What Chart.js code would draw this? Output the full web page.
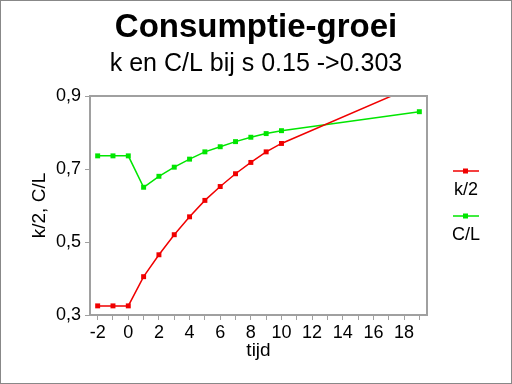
<!DOCTYPE html>
<html>
<head>
<meta charset="utf-8">
<script src="https://cdn.jsdelivr.net/npm/chart.js@4.4.1/dist/chart.umd.min.js"></script>
<style>
  html, body { margin: 0; padding: 0; background: #fff; }
  #wrap { width: 512px; height: 384px; }
</style>
</head>
<body>
<div id="wrap"><canvas id="groeiChart" width="512" height="384"></canvas></div>
<script>
var tijd = [-2, -1, 0, 1, 2, 3, 4, 5, 6, 7, 8, 9, 10, 19];
var k2Data = [0.325, 0.325, 0.325, 0.405, 0.465, 0.520, 0.569, 0.614, 0.652, 0.687, 0.718, 0.747, 0.770, 0.933];
var clData = [0.736, 0.736, 0.736, 0.650, 0.680, 0.705, 0.727, 0.747, 0.761, 0.775, 0.787, 0.797, 0.805, 0.857];
var yTicks = [0.3, 0.5, 0.7, 0.9];
var xTickFirst = -2, xTickLast = 19;

var titleText = 'Consumptie-groei';
var subtitleText = 'k en C/L bij s 0.15 ->0.303';

var fontName = '"Liberation Sans", Arial, sans-serif';
var frameColor = '#a0a0a0';

function toPoints(xs, ys) {
  return xs.map(function (x, i) { return { x: x, y: ys[i] }; });
}

// frame, outer border, titles and legend
var decorPlugin = {
  id: 'decor',
  afterDraw: function (chart) {
    var ctx = chart.ctx;
    var a = chart.chartArea;
    ctx.save();
    // outer border
    ctx.strokeStyle = '#888';
    ctx.lineWidth = 2;
    ctx.strokeRect(0, 0, chart.width, chart.height);
    // plot frame
    ctx.strokeStyle = frameColor;
    ctx.lineWidth = 2;
    ctx.strokeRect(a.left, a.top, a.right - a.left, a.bottom - a.top);
    // titles
    ctx.fillStyle = '#000';
    ctx.textAlign = 'center';
    ctx.textBaseline = 'alphabetic';
    ctx.font = 'bold 33px ' + fontName;
    ctx.fillText(titleText, 256, 37);
    ctx.font = '25px ' + fontName;
    ctx.fillText(subtitleText, 256, 71);
    // legend
    chart.data.datasets.forEach(function (ds, i) {
      var y = 171 + i * 45;
      ctx.strokeStyle = ds.borderColor;
      ctx.lineWidth = 1.5;
      ctx.beginPath();
      ctx.moveTo(453, y);
      ctx.lineTo(479, y);
      ctx.stroke();
      ctx.fillStyle = ds.borderColor;
      ctx.fillRect(463, y - 2.5, 5, 5);
      ctx.fillStyle = '#000';
      ctx.font = '18px ' + fontName;
      ctx.textBaseline = 'middle';
      ctx.fillText(ds.label, 466, y + 19);
    });
    ctx.restore();
  }
};

var ctx = document.getElementById('groeiChart').getContext('2d');
var myChart = new Chart(ctx, {
  type: 'line',
  data: {
    datasets: [{
      label: 'k/2',
      data: toPoints(tijd, k2Data),
      borderColor: 'rgb(240, 0, 0)',
      backgroundColor: 'rgb(240, 0, 0)',
      borderWidth: 1.5,
      pointStyle: 'rect',
      pointRadius: 3.5,
      pointBorderWidth: 0,
      tension: 0
    }, {
      label: 'C/L',
      data: toPoints(tijd, clData),
      borderColor: 'rgb(0, 230, 0)',
      backgroundColor: 'rgb(0, 230, 0)',
      borderWidth: 1.5,
      pointStyle: 'rect',
      pointRadius: 3.5,
      pointBorderWidth: 0,
      tension: 0
    }]
  },
  options: {
    responsive: false,
    animation: false,
    layout: { padding: { top: 96, right: 85, left: 0, bottom: 0 } },
    plugins: {
      legend: { display: false },
      title: { display: false },
      tooltip: { enabled: false }
    },
    scales: {
      x: {
        type: 'linear',
        min: -2.5,
        max: 19.5,
        afterFit: function (scale) { scale.height = 69; },
        afterBuildTicks: function (scale) {
          var t = [];
          for (var v = xTickFirst; v <= xTickLast; v++) t.push({ value: v });
          scale.ticks = t;
        },
        grid: { drawOnChartArea: false, drawTicks: true, tickLength: 5, color: frameColor, lineWidth: 1 },
        border: { display: true, color: frameColor, width: 2 },
        ticks: {
          autoSkip: false,
          maxRotation: 0,
          padding: 2,
          color: '#000',
          font: { family: fontName, size: 18 },
          callback: function (v) { return v % 2 === 0 ? String(v) : ''; }
        },
        title: {
          display: true,
          text: 'tijd',
          color: '#000',
          font: { family: fontName, size: 19 },
          padding: { top: 0, bottom: 22 }
        }
      },
      y: {
        min: 0.3,
        max: 0.9,
        afterFit: function (scale) { scale.width = 90; },
        afterBuildTicks: function (scale) {
          scale.ticks = yTicks.map(function (v) { return { value: v }; });
        },
        grid: { drawOnChartArea: false, drawTicks: true, tickLength: 5, color: frameColor, lineWidth: 1 },
        border: { display: true, color: frameColor, width: 2 },
        ticks: {
          padding: 4,
          color: '#000',
          font: { family: fontName, size: 18 },
          callback: function (v) { return v.toFixed(1).replace('.', ','); }
        },
        title: {
          display: true,
          text: 'k/2, C/L',
          color: '#000',
          font: { family: fontName, size: 19 },
          padding: { top: 28, bottom: 0 }
        }
      }
    }
  },
  plugins: [decorPlugin]
});
</script>
</body>
</html>
